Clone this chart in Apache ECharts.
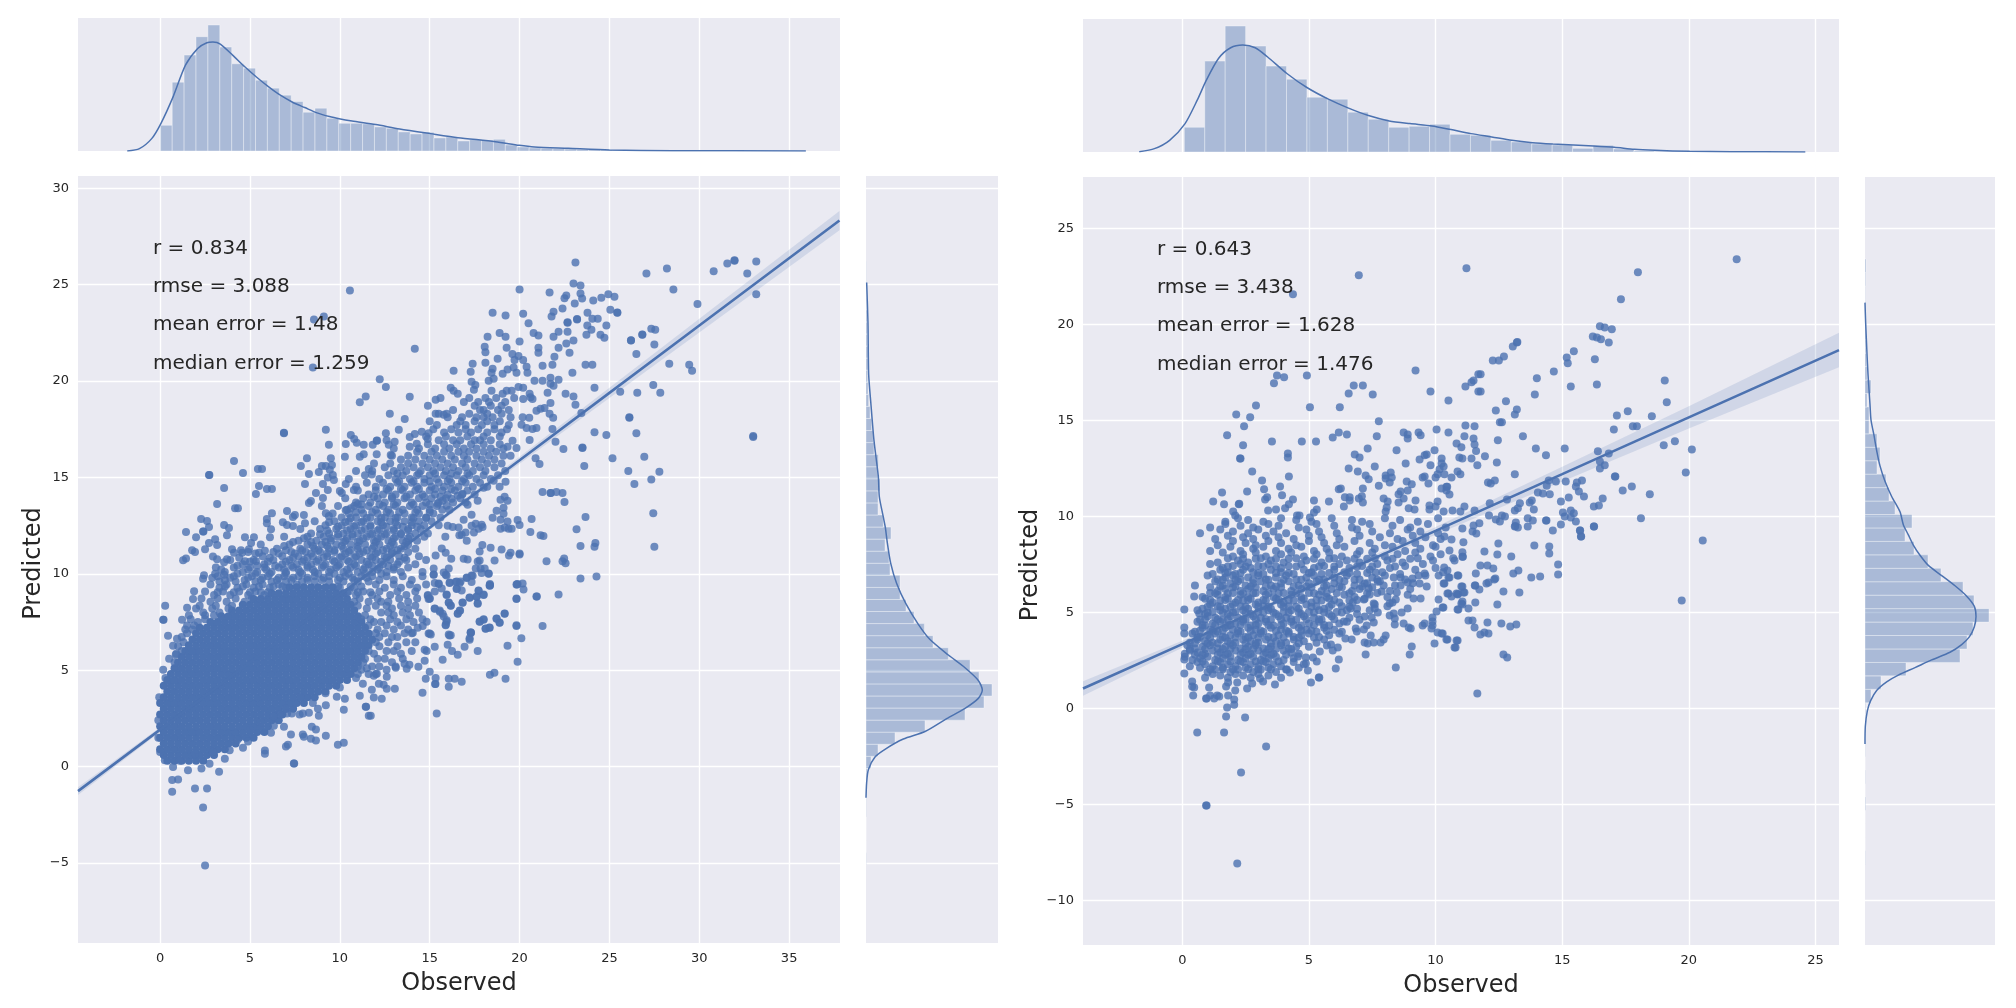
<!DOCTYPE html>
<html><head><meta charset="utf-8">
<style>html,body{margin:0;padding:0;background:#fff}#c{width:2016px;height:1008px}</style>
<script src="https://cdn.jsdelivr.net/npm/echarts@6/dist/echarts.min.js"></script>
</head><body><div id="c"></div>
<script>
// ---------- histogram readings ----------
const leftTopStart=0.01, leftTopWidth=0.662;
const leftTopCounts=[77,206,287,342,377,311,261,248,212,188,167,148,116,128,98,83,83,81,72,68,57,51,56,39,42,30,34,32,35,18,12,9,8,7,6,5,4,3,2,2,1,1,1,1,1,1,1,1,1,1];
const leftTopKdeX=[-1.83,-1.15,-0.47,0.04,0.72,1.41,2.09,2.6,2.94,3.35,4.03,4.71,5.39,6.04,6.69,7.37,8.05,8.73,9.42,10.03,10.68,12,13.33,15.04,16.57,18.65,19.98,20.83,22.7,25,28.5,35.93];
const leftTopKdeY=[0,7,37,82,162,257,307,324,326,320,287,252,220,192,167,146,130,114,103,96,90,79,66,52,40,28,17,12,8,3,1,0];
const leftSideStart=-5.1, leftSideWidth=0.626;
const leftSideCounts=[1,0,0,0,1,1,2,3,15,36,87,177,297,354,378,339,312,247,201,175,144,120,102,102,72,69,57,75,52,36,36,42,36,37,24,22,17,12,8,6,5,6,6,5,5,4,2,1,1,1];
const leftSideKdeY=[25.11,22.99,20.35,18.76,16.91,15.05,14,12.94,12.41,11.61,10.56,9.5,8.44,7.38,6.59,5.79,5.13,4.47,3.97,3.54,3.02,2.49,1.82,1.43,0.9,0.5,-0.16,-0.82,-1.62];
const leftSideKdeX=[2,6,8,15,24,37,40,52,58,64,74,92,120,157,192,247,297,337,349,337,297,242,177,112,57,27,7,2,0];
const rightTopStart=0.08, rightTopWidth=0.807;
const rightTopCounts=[74,272,377,317,257,218,164,158,119,98,74,77,83,53,50,35,30,24,21,11,20,9,3,2,2,1,1];
const rightTopKdeX=[-1.7,-1.1,-0.5,0.11,0.59,0.95,1.43,1.91,2.39,2.88,3.36,4.13,4.92,5.77,6.54,7.35,8.17,8.99,9.86,10.61,11.4,12.22,13.01,13.83,14.63,15.45,16.24,17.06,17.85,18.67,20.04,21.66,24.6];
const rightTopKdeY=[1,10,35,85,155,215,280,312,320,312,285,235,193,158,132,109,93,85,78,67,55,45,35,28,24,21,18,14,8,5,2,1,0];
const rightSideStart=-8.1, rightSideWidth=0.7;
const rightSideCounts=[1,0,0,0,2,0,1,0,1,0,1,2,18,48,123,285,306,324,372,327,294,228,189,147,120,141,90,72,63,36,45,36,12,12,6,18,6,5,3,3,2,1,1,2,3];
const rightSideKdeY=[-1.85,-0.92,-0.12,0.41,0.94,1.39,1.74,2.13,2.53,2.93,3.33,3.73,4.26,4.79,5.32,5.85,6.39,6.92,7.45,7.98,8.51,9.04,9.57,10.24,11.04,11.83,12.63,13.43,14.22,15.02,15.82,16.61,17.41,18.47,20.07,21.13];
const rightSideKdeX=[0,1,7,17,35,65,100,150,200,255,290,313,328,333,328,305,270,230,190,165,145,130,115,105,80,60,45,35,27,18,15,12,9,6,2,0];
// ---------- regression ----------
const leftFitX=[-4.57,0,5,10,15,20,25,30,37.8];
const leftFitY=[-1.27,1.92,5.41,8.91,12.4,15.89,19.39,22.88,28.33];
const leftFitCi=[0.2,0.12,0.08,0.08,0.12,0.18,0.27,0.36,0.5];
const rightFitX=[-3.92,0,5,10,15,20,25.93];
const rightFitY=[1.04,3.35,6.3,9.25,12.2,15.16,18.66];
const rightFitCi=[0.38,0.18,0.12,0.2,0.38,0.58,0.9];
// ---------- scatter: rows are [predicted, observed, observed, ...] ----------
const leftCoreRows=[
[.3,.4,.8,1.2,1.6,2,2.4],
[.6,.2,.6,1,1.4,1.8,2.2,2.6,3],
[.9,0,.4,.8,1.2,1.6,2,2.4,2.8,3.2,3.6],
[1.2,.2,.6,1,1.4,1.8,2.2,2.6,3,3.4,3.8,4.2],
[1.5,0,.4,.8,1.2,1.6,2,2.4,2.8,3.2,3.6,4,4.4,4.8,5.2],
[1.8,.2,.6,1,1.4,1.8,2.2,2.6,3,3.4,3.8,4.2,4.6,5,5.4,5.8],
[2.1,0,.4,.8,1.2,1.6,2,2.4,2.8,3.2,3.6,4,4.4,4.8,5.2,5.6,6],
[2.4,.2,.6,1,1.4,1.8,2.2,2.6,3,3.4,3.8,4.2,4.6,5,5.4,5.8,6.2,6.6],
[2.7,0,.4,.8,1.2,1.6,2,2.4,2.8,3.2,3.6,4,4.4,4.8,5.2,5.6,6,6.4,6.8],
[3,.2,.6,1,1.4,1.8,2.2,2.6,3,3.4,3.8,4.2,4.6,5,5.4,5.8,6.2,6.6,7,7.4],
[3.3,0,.4,.8,1.2,1.6,2,2.4,2.8,3.2,3.6,4,4.4,4.8,5.2,5.6,6,6.4,6.8,7.2,7.6,8],
[3.6,.2,.6,1,1.4,1.8,2.2,2.6,3,3.4,3.8,4.2,4.6,5,5.4,5.8,6.2,6.6,7,7.4,7.8,8.2,8.6],
[3.9,.4,.8,1.2,1.6,2,2.4,2.8,3.2,3.6,4,4.4,4.8,5.2,5.6,6,6.4,6.8,7.2,7.6,8,8.4,8.8,9.2],
[4.2,.2,.6,1,1.4,1.8,2.2,2.6,3,3.4,3.8,4.2,4.6,5,5.4,5.8,6.2,6.6,7,7.4,7.8,8.2,8.6,9,9.4,9.8],
[4.5,.4,.8,1.2,1.6,2,2.4,2.8,3.2,3.6,4,4.4,4.8,5.2,5.6,6,6.4,6.8,7.2,7.6,8,8.4,8.8,9.2,9.6,10,10.4],
[4.8,.6,1,1.4,1.8,2.2,2.6,3,3.4,3.8,4.2,4.6,5,5.4,5.8,6.2,6.6,7,7.4,7.8,8.2,8.6,9,9.4,9.8,10.2,10.6],
[5.1,.8,1.2,1.6,2,2.4,2.8,3.2,3.6,4,4.4,4.8,5.2,5.6,6,6.4,6.8,7.2,7.6,8,8.4,8.8,9.2,9.6,10,10.4,10.8],
[5.4,1,1.4,1.8,2.2,2.6,3,3.4,3.8,4.2,4.6,5,5.4,5.8,6.2,6.6,7,7.4,7.8,8.2,8.6,9,9.4,9.8,10.2,10.6,11],
[5.7,1.2,1.6,2,2.4,2.8,3.2,3.6,4,4.4,4.8,5.2,5.6,6,6.4,6.8,7.2,7.6,8,8.4,8.8,9.2,9.6,10,10.4,10.8,11.2],
[6,1.4,1.8,2.2,2.6,3,3.4,3.8,4.2,4.6,5,5.4,5.8,6.2,6.6,7,7.4,7.8,8.2,8.6,9,9.4,9.8,10.2,10.6,11,11.4],
[6.3,1.6,2,2.4,2.8,3.2,3.6,4,4.4,4.8,5.2,5.6,6,6.4,6.8,7.2,7.6,8,8.4,8.8,9.2,9.6,10,10.4,10.8,11.2,11.6],
[6.6,1.8,2.2,2.6,3,3.4,3.8,4.2,4.6,5,5.4,5.8,6.2,6.6,7,7.4,7.8,8.2,8.6,9,9.4,9.8,10.2,10.6,11,11.4,11.8],
[6.9,2,2.4,2.8,3.2,3.6,4,4.4,4.8,5.2,5.6,6,6.4,6.8,7.2,7.6,8,8.4,8.8,9.2,9.6,10,10.4,10.8,11.2,11.6],
[7.2,2.2,2.6,3,3.4,3.8,4.2,4.6,5,5.4,5.8,6.2,6.6,7,7.4,7.8,8.2,8.6,9,9.4,9.8,10.2,10.6,11,11.4],
[7.5,2.8,3.2,3.6,4,4.4,4.8,5.2,5.6,6,6.4,6.8,7.2,7.6,8,8.4,8.8,9.2,9.6,10,10.4,10.8,11.2],
[7.8,3.4,3.8,4.2,4.6,5,5.4,5.8,6.2,6.6,7,7.4,7.8,8.2,8.6,9,9.4,9.8,10.2,10.6,11],
[8.1,4,4.4,4.8,5.2,5.6,6,6.4,6.8,7.2,7.6,8,8.4,8.8,9.2,9.6,10,10.4,10.8],
[8.4,4.6,5,5.4,5.8,6.2,6.6,7,7.4,7.8,8.2,8.6,9,9.4,9.8,10.2,10.6],
[8.7,5.2,5.6,6,6.4,6.8,7.2,7.6,8,8.4,8.8,9.2,9.6,10,10.4],
[9,6.2,6.6,7,7.4,7.8,8.2,8.6,9,9.4,9.8,10.2],
[9.3,7.2,7.6,8,8.4,8.8,9.2,9.6]
];
const leftFillRows=[
[9.05,3.2,4.1,5,5.6,6,10.4,11,11.7],[9.35,3.6,4.6,5.5,6.3,6.8,9.9,10.6,11.2],
[9.6,3.3,4.2,5.3,6.2,7,7.9,8.6,9.4,10.2,11,11.6],[9.8,2.9,3.9,4.9,5.7,6.6,7.4,8.2,9.1,10,10.7,11.5],
[10,4.3,5.3,6.1,7,7.9,8.8,9.7,10.5,11.4,12.3],[10.22,3.4,4.9,5.9,6.9,7.7,8.5,9.5,10.4,11.3,12.1,13],
[10.42,4.3,5.4,6.4,7.3,8.2,9.1,9.9,10.9,11.8,12.7],[10.63,5,6,7,7.9,8.7,9.7,10.5,11.5,12.3,13.3],
[10.84,4.4,6.1,7.4,8.2,9.1,10,10.8,11.8,12.6,13.6],[11.05,5.3,6.6,7.5,8.4,9.3,10.3,11.1,12,12.9],
[11.22,7,7.9,8.8,9.7,10.6,11.5,12.4,13.2],[11.45,6.9,8.5,9.3,10.1,11,11.9,12.8,13.6],
[11.65,7.4,8.4,9.2,10.2,11,12,12.9,13.7],[11.85,8,9.5,10.4,11.3,12.1,13,13.8],
[12.05,8.9,9.9,10.7,11.7,12.5,13.4],[12.25,9.3,10.4,11.2,12.1,13,13.8],
[12.45,9.9,10.8,11.7,12.6,13.5,14.3],[12.68,9.4,10.3,11.2,12.3,13.1,14],
[12.9,10.6,11.5,12.3,13.1,14.1,14.8],[13.2,10.9,11.8,12.6,13.3,14.2,15],
[13.6,11.2,12.2,13,14.1,15],[14,11.9,12.9,13.7,14.7,15.6],
[14.4,12.6,13.4,14.4,15.3,16.2],[14.8,13.3,14.1,15,16,16.8],[15.2,13.2,14.4,15.3,16.2,17.1]
];
const leftMidRows=[
[19.12,15.6,17.2,18.1,18.7,19.7],[18.92,16.9,17.7,18.3,19.2],
[18.72,14.9,17.5,18.4,19],[18.5,16.3,17.8,18,18.8,19.4],
[18.3,15.5,17.2,18.2,19],[18.13,16,16.8,17.6,18,18.5,19.5],
[17.92,15,16.7,17.5,18.2,18.9],[17.72,15.4,16.5,17,17.9,18.6,19.4],
[17.5,15.2,16.2,17,17.7,18.6,19.3],[17.33,15.8,16.6,17.3,18.2,19],
[17.12,14.8,15.9,17.1,18,18.9],[16.93,12.6,15.5,16.3,16.7,17.5,17.8,18.4],
[16.72,14.9,15.8,16.5,17.3,18,18.9],[16.5,13,14.4,15.3,16.1,16.9,17.6,18.4,19.1],
[16.33,14.3,15.1,15.8,16.6,17.2,18,18.7],[16.13,12.9,13.8,14.7,15.4,16.2,16.9,17.6,18.3,19.1,19.5],
[15.93,13.4,14.2,15,15.7,16.4,17.1,17.9,18.6],[15.72,11.9,12.8,13.8,14.6,15.3,16,16.8,17.5,18.2,19],
[15.53,12.5,13.4,14.1,14.9,15.6,16.3,17,17.8,18.6],[15.33,10.9,11.8,13,13.7,14.5,15.2,15.9,16.6,17.4,18.1,19.2],
[15.12,11.4,12.7,13.5,14.3,15,15.8,16.5,17.2,18,18.8],[14.92,10.5,12.2,13.1,13.9,14.7,15.4,16.1,16.9,17.6,18.4],
[14.73,11.5,12.4,13.2,14,14.7,15.5,16.2,17,17.8],[14.52,10.9,12,12.8,13.6,14.3,15.1,15.8,16.6,17.4,18.2],
[14.33,11,12,12.7,13.5,14.2,15,15.7,16.4,17.1],[14.12,11.6,12.4,13.1,13.9,14.6,15.3,16,16.8,17.5],
[13.92,10.3,11.3,12.1,12.9,13.6,14.4,15.1,15.9,16.7],[13.7,10.9,11.7,12.5,13.2,14,14.8,15.5,16.3,17],
[13.52,9.9,10.8,11.6,12.4,13.1,13.9,14.6,15.4],[13.33,10.4,11.2,12,12.7,13.5,14.3,15,15.7,16.1],
[13.13,9.6,10.5,11.3,12.1,12.8,13.6,14.4,15.2],[12.92,10.1,10.9,11.7,12.5,13.2,14,14.8,15.6],
[12.73,8.6,9.7,10.5,11.3,12.1,12.8,13.6,14.4,15.1],[12.52,9.2,10.1,10.9,11.7,12.4,13.2,14,14.7,15.5],
[12.33,7.8,8.9,9.8,10.6,11.4,12.2,13,13.8,14.5],[12.1,8.4,9.4,10.2,11,11.8,12.6,13.4,14.2,14.9],
[11.92,6.9,8.2,9.1,9.9,10.7,11.5,12.3,13.1,13.9,14.7],[11.72,7.7,8.7,9.5,10.3,11.1,11.9,12.7,13.5,14.3],
[11.52,5.6,7.2,8.2,9,9.8,10.6,11.4,12.2,13,13.8],[11.3,6.5,7.8,8.6,9.4,10.2,11,11.8,12.6,13.4,14.2],
[11.13,4.9,6.3,7.3,8.1,8.9,9.7,10.5,11.3,12.1,12.9,13.8],[10.92,5.7,6.8,7.7,8.5,9.3,10.1,10.9,11.7,12.5,13.3,14.4],
[10.72,3.9,5.2,6.3,7.2,8,8.8,9.6,10.4,11.2,12,12.8,13.7,14.8],[10.5,4.6,5.8,6.8,7.6,8.4,9.2,10,10.8,11.6,12.4,13.2,14.2],
[10.33,3.1,4.1,5,5.8,6.6,7.4,8.2,9,9.8,10.6,11.4,12.2,13,13.8],[10.1,3.6,4.6,5.4,6.2,7,7.8,8.6,9.4,10.2,11,11.8,12.6,13.4,14.6],
[9.88,3.2,4.1,5.1,6,6.9,7.7,8.6,9.4,10.3,11.2,11.8,12.6,13.5,14.6],[9.68,3.6,4.7,5.6,6.5,7.3,8.2,9,9.9,10.8,12.2,13,14],
[9.45,2.8,3.7,4.8,5.7,6.6,7.6,12,13,13.9,14.8],[9.28,3.3,4.3,5.2,6.1,7,10,10.8,12.5,13.4,14.3],
[9.08,2.5,3.5,4.4,5.3,10.5,11.3,12.2,13.2,14.2],[8.9,3,3.9,4.9,5.8,10.9,11.8,12.8,13.7,14.9],
[8.72,2.3,3.2,4.2,5.1,11.1,12.1,13.3,14.3,15],[8.55,2.8,3.7,4.7,10.8,11.6,12.3,12.7,13.8],
[8.35,2.2,3.1,4,11,12,12.6,13.4,14.2],[8.2,2,2.9,3.8,11.5,12.9,13.8],
[8,2.4,3.3,12.3,12.7,13.5,14.4],[7.85,1.6,2.5,3,11.4,13,13.9],
[7.65,1.7,2.5,11.2,11.7,12.8,13.7,14.6],[7.5,2.1,11.9,12.3,13.2,14.1],
[7.32,1.5,1.9,11.6,12.6,13.4],[7.12,1.4,1.8,12.1,13,13.8],
[6.92,1.5,12,12.5,13.6,14],[6.72,1.2,12.2,12.9,13.2],
[6.45,1.3,12,12.7,13.7,14.2],[6.25,1,12.2,13.2],
[6,1.2,11.6,12.6,13,14],[5.85,.9,11.9,13.4],
[5.6,11.4,12.1,12.5,13.5],[5.42,.8,11.3,12.9],
[5.2,11,11.8,12.2,13.1],[5.02,11.2,12.6],[4.8,11,11.6,12]
];
const leftPairs=[23.11,26.15,27.06,25.58,28.2,25.84,30.8,25.7,31.56,26.1,31.96,26.24,31.96,26.27,33.17,26.2,32.67,25.58,28.56,24.75,29.9,24,33.17,24.5,33,17.1,33,17.15,
23,25.06,23.39,24.96,20,24.75,21.67,24.6,23.39,24.54,22.6,24.44,22.5,24.3,23.07,24.02,23.48,24.28,24.1,24.18,24.55,24.33,24.94,24.5,25.28,24.38,22.39,23.76,21.89,23.6,21.78,23.35,20.2,23.5,18.5,23.55,19.22,23.4,25.05,23.7,25.44,23.55,25.44,23.56,23.78,23.55,20.5,23,22.67,23.03,22.67,23.05,23.2,23.2,23.2,23.22,24.05,23.24,24.35,23.24,24.83,22.88,23.77,22.88,24,22.67,22.67,22.56,22.17,22.56,20.78,22.5,21.05,22.36,21.89,22.3,18.89,22.5,19.22,22.3,18.22,22.3,23.72,22.4,24.5,22.4,24.72,22.25,20,22.05,23,22.1,22.6,21.95,22.17,21.73,21.05,21.73,21.05,21.47,22.78,21.47,19.28,21.73,18.06,21.78,18.1,21.5,19.6,21.4,19.94,21.3,21.94,21.26,20.2,21.1,19.72,21.1,18.78,21.16,18.1,20.95,17.39,20.9,21.83,20.85,21.28,20.8,20.39,20.75,19.67,20.7,16.33,20.54,17.28,20.48,18.5,20.64,18.44,20.43,19.33,20.6,20.44,20.43,19.83,20.43,19.06,20.38,22.94,20.43,23.67,20.85,24.05,20.85,26.5,21.4,26.2,22.1,26.2,22.12,26.83,22.4,26.83,22.42,27.33,22.72,27.55,22.67,27.5,21.9,28.33,20.9,29.44,20.85,29.6,20.54,27.44,19.8,27.83,19.4,26.55,19.4,25.6,19.45,24.17,19.65,22.56,19.34,23,19.2,23.11,18.77,23.44,18.35,26.11,18.1,26.11,18.12,26.5,17.3,24.83,17.2,24.17,17.35,23.5,16.53,23.5,16.55,25.17,16,26.94,16.07,23.6,15.6,26.05,15.34,27.78,15.3,27.33,14.9,26.39,14.66,27.44,13.15,27.5,11.4,23.67,12.95,23.17,12.32,23.39,11.44,24.22,11.6,24.17,11.4,21.5,10.66,22.39,10.66,22.56,10.55,22.48,10.8,21.28,14.25,21.72,14.2,21.74,14.2,22.05,14.25,22.39,14.2,22.5,13.73,20.67,12.84,20.6,12.17,21.17,12,21.33,11.96,20,11,19.89,12.8,20,12.53,
22,16.85,22.44,16.48,20.89,16,21.11,15.7,21.83,17.52,20.56,16.95,20.94,17.57,20.72,17.52,20.39,17.57,20.11,17.73,19.83,16.53,19.61,16.9,19.33,16.59,21.87,18.1,21.67,18.3,20.54,18.1,20.17,18.13,20.94,18.46,21.17,18.56,21.39,18.6,21.72,18.87,20.61,19.16,20.72,19.07,20.2,19.07,20.56,19.34,21.56,19.4,21.72,19.86,21.89,19.76,22.17,20.07,21.28,20.02,20.83,20.02,20.2,19.65,19.94,19.7,21.72,20.17,19.56,19.5,19.28,19.5,19.06,19.34,18.44,19.5,18.28,20.02,18.56,20.12,17.33,19.96,17.54,19.8,17.46,19.55,16.17,19.65,16.33,19.5,16.56,19.34,15.33,19.03,13.89,19.19,14.17,21.68,
10.56,24.7,8.56,23.2,9.11,23.35,8.5,20.7,6.89,17.3,6.89,17.32,9.22,17.47,12.22,20.1,12.56,19.7,11.11,18.9,11.44,19.2,12.78,18.3,13.61,18.04,15.33,18.3,15.78,18.25,15.94,18.3,12.56,17.3,13.28,17.47,10.61,17.2,10.8,17,10.94,16.8,10.33,16.74,11.33,16.7,11.83,16.7,12.05,16.9,12.07,16.92,13.05,16.85,12.72,16.7,13.89,17.1,14.17,17.26,13.89,16.6,14.28,16.75,14.56,17.37,14.94,17.3,14.89,17,8.17,16,9.39,16.7,9.5,16,10.28,16.07,11.11,16.07,11.33,16.2,12.05,16.2,12.83,16.17,4.11,15.86,2.72,15.13,2.74,15.13,4.61,15.23,5.44,15.44,5.67,15.44,7.83,15.6,8.28,15.18,8.83,15.28,9,15.6,9.22,15.6,9.56,15.65,9.44,15.4,11.61,15.44,11.78,15.15,9.33,15,9.61,15.13,9.67,14.87,3.56,14.45,5.5,14.56,5.94,14.4,6.22,14.4,5.33,14.14,8.06,14.66,9.06,14.66,9.33,14.35,10.33,14.66,10.78,14.35,10,14.3,10.11,14.2,8.67,14.2,9.06,13.93,3.17,13.62,8.28,13.67,8.39,13.78,9,13.52,4.17,13.41,4.33,13.41,6.22,13.15,7.06,13.26,8,13.05,9.22,13.15,9.39,13,10.33,13.3,10.61,13.41,11,13.62,7.5,13.05,7.39,12.95,2.28,12.84,2.61,12.74,5.94,12.84,5.94,12.63,6.83,12.68,7.06,12.53,7.39,12.48,8.06,12.63,1.44,12.17,2.39,12.2,2.41,12.2,2.72,12.43,3.56,12.53,3.83,12.38,3.72,12,2,11.9,3.06,11.8,4.72,11.9,5.22,11.9,6.17,12.32,6.11,11.9,2.72,11.6,3.17,11.5,2.5,11.28,1.78,11.23,1.94,11.13,1.28,10.7,1.44,10.8,2.94,10.9,3.17,10.76,3.56,10.6,3.72,10.76,4,11.28,4.11,11.1,4.56,11.1,4.5,11.23,4.94,11.28,5.06,11.6,4.72,10.66,5.5,11.1,5.33,10.66,5.83,11.2,
15.39,2.75,14.6,3.83,15.3,4.28,15.32,4.28,14.78,4.56,16.06,4.15,16.06,4.56,16.39,4.56,16.78,4.4,18.35,4.77,18.6,4.87,19.22,4.56,15.33,4.6,15,4.92,14.37,5.18,13.87,5.28,13.72,5.08,13.6,5.34,14.72,5.49,15.72,5.54,16.56,5.8,16.24,6,16,6.32,16.94,6.22,17.67,6,15.28,6.22,14.83,6,14.72,6.06,17.22,6.58,17.28,6.94,17.3,6.94,19.33,6.27,19.83,7.3,19.89,5.44,14.94,6.9,15.06,6.86,16.1,6.8,17.78,7.51,18,7.62,18.11,7.15,18.33,7.2,18.72,7.67,18.89,7.46,19.17,7.93,16.56,7.93,16.69,8.08,15.94,7.51,15.89,7.36,14.83,7.51,14.61,7.3,14.33,7.2,14.06,6.94,15.72,7.93,15.56,8.03,15.28,8.19,16.83,8.5,17.67,8.45,16.17,8.34,16.06,8.5,17.22,8.76,17.61,8.8,18,8.9,17.72,9.12,18.35,9.38,18.35,9.48,19.83,8.7,19.83,9.45,19.85,9.45,17.06,9.79,17.33,9.58,17.39,9.9,16.67,9.53,16.44,9.58,16.5,9.22,16.11,9.53,15.94,8.9,15.5,9.48,15.28,9.53,14.94,8.7,14.89,8.86,17.89,10.05,18.28,10,15.22,9.95,15.89,9.95,
2.5,-5.13,2.39,-2.12,1.94,-1.14,2.61,-1.14,.67,-1.3,7.44,.16,7.46,.16,9.89,1.14,10.22,1.24,9.22,1.6,8.39,1.45,8.67,1.35,8,1.55,7.94,1.66,7,1.04,7.11,1.14,7.28,1.66,6.89,2.07,8.44,2.07,8.67,1.92,5.83,.83,5.83,.67,4.61,.98,3.28,-.26,6.17,1.76,4.89,1.3,10.22,2.95,11.44,3.1,11.46,3.1,11.61,2.64,11.72,2.64,9.83,3.62,10.28,3.52,11.11,3.68,11.89,3.58,12.33,3.52,11.78,3.99,12.61,4.04,13.06,4.04,12.44,4.25,12.17,4.3,12.61,4.66,13.11,5.13,11.89,4.71,12.06,4.82,11.28,4.3,8.83,2.64,9.22,3.18,8.78,3,8.28,2.8,7.94,2.75,7.76,2.7,7.33,2.75,7.06,2.75,6.67,2.7,6.33,2.12,.67,-.7,1,-.67,1.55,-.19,2.3,-.1,2.75,.15,3.6,.41,3.87,.85,2.94,.76,1.93,.67,1.09,.3,.72,-.02,0,.76,.26,.33,.28,8.34,.17,7.62,.19,7.62,.44,6.79,.17,5.03,.94,6.63,.72,6.27,.87,5.8,1.22,7.62,1.5,8.24,1.89,9.1,1.83,8.7,2.44,9.93,2.39,9.74,3.06,10,3.56,9.95,.5,5.6,.3,4.6,-.05,3.6,-.1,2.4,-.1,1.5,7.8,3.6,8.5,3.3,9.2,3.8,10,4.1,10.9,4.6,11.5,5.1,4.3,1.4,5,1.9,5.6,2.3,6.3,2.6,7,3,
20.1,6.66,21.28,7.3,19.83,7.33,19.17,7.95,18.89,7.48,18.72,7.69,18.33,7.22,18.11,7.17,18,7.64,17.78,7.53,17.28,6.97,17.22,6.66,16.17,6.81,16.06,6.86,15,6.9,16.67,8.1,16.56,7.95,15.94,7.59,15.89,7.33,15.78,7.79,15.56,8.1,15.28,8.2,16.17,8.36,16.06,8.52,16.83,8.52,17.67,8.47,17.22,8.78,17.61,8.83,18,8.93,17.72,9.14,18.33,9.4,18.35,9.42,19.83,8.72,19.89,9.48,20.22,9.19,20.17,9.5,20.94,8.83,20.96,8.83,22.17,8.93,23.39,9.76,24.28,9.86,17.06,9.81,17.33,9.91,16.78,9.14,16.5,9.24,16.5,9.6,16.72,9.6,16.11,9.55,15.94,8.93,15.67,9.24,15.5,9.5,15.28,9.09,15,8.72,
17.83,10.28,18.28,10.02,18.06,10.28,17.67,10.64,17.78,10.69,17.56,10.28,17.11,10.74,16.89,10.79,16.2,10.79,16.06,10.28,15.94,9.91,15.78,10.07,18.61,10.69,19.41,10.95,19.5,11.1,20,11.05,19,11.26,18.39,11.36,17.93,11.5,17.78,11.16,17.06,11.72,16.65,12,16.78,12.03,17,12.14,15.87,11.93,15.67,11.31,15.33,10.95,15.89,11.1,15.22,10.28,15.22,9.97,17.46,12.14,17.56,12.6,17.89,12.55,17.94,12.43,17.72,12.34,17.33,12.5,16.89,12.81,17.33,13.07,16,12.5,16.28,12.43,16.61,12.4,18.5,12.91,18.72,13.28,19.11,13.43,19.11,13.12,19.33,13.79,18.94,13.84,19.17,14,17.67,13.79,17.11,13.59,15.94,13.53,15.44,13.64,15.72,13.79,16.22,13.9,16.56,14.05,16.83,14.16,18,14.47,18.89,14.52,19.22,14.78,18.56,14.83,18.94,12.81,19.33,12.71,19.39,12.34,18.94,12.34,19.56,12.34,19.17,12.4];
const rightRows=[
[1.6,.9,1.8,2.7,3.9],[1.8,1.2,2.1,3],[1.72,1.5,2.4,3.4],
[2.12,.7,1.6,2.5,3.4,4.6],[1.9,1,1.9,2.8,3.7],[2.03,1.3,2.2,3.1,4.1],
[2.2,.3,1.2,2.1,3,3.9],[2.42,.6,1.5,2.4,3.3,4.4],[2.3,.9,1.8,2.7,3.6,4.8],
[2.7,.1,1,1.9,2.8,3.7],[2.52,.4,1.3,2.2,3.1,4],[2.62,.7,1.6,2.5,3.4,4.4],
[2.85,.1,.9,1.8,2.7,3.6,4.6],[3.02,.3,1.2,2.1,3,4],[2.92,.6,1.5,2.4,3.3,4.3],
[3.3,.2,1.1,2,2.9,3.9],[3.12,.5,1.4,2.3,3.2,4.2],[3.22,.8,1.7,2.6,3.5,4.5,5],
[3.42,.3,1.2,2.1,3,4.1,5.3],[3.6,.6,1.5,2.4,3.3,4.4,5.6],[3.5,.9,1.8,2.7,3.7,4.8],
[3.9,.4,1.3,2.2,3.1,4.2,5,6.2],[3.72,.7,1.6,2.5,3.4,4.4,5.4],[3.82,1,1.9,2.8,3.8,4.7,5.8],
[4,.5,1.4,2.3,3.2,4.2,5.3,6.3],[4.2,.8,1.7,2.6,3.5,4.6,5.6],[4.1,1.1,2,2.9,3.9,4.9,6],
[4.52,.6,1.5,2.4,3.3,4.3,5.4,6.5],[4.32,.9,1.8,2.7,3.6,4.7,5.8],[4.42,1.2,2.1,3,4,5,6.2],
[4.62,.7,1.6,2.5,3.5,4.5,5.5,7],[4.8,1,1.9,2.8,3.8,4.8,5.9],[4.72,1.3,2.2,3.1,4.1,5.2,6.6],
[5.12,.6,1.5,2.4,3.4,4.3,5.4,6.5,7.4],[4.92,.9,1.8,2.7,3.7,4.7,5.8,6.9],[5.02,1.2,2.1,3,4,5,6.1],
[5.2,.8,1.7,2.6,3.5,4.6,5.6,6.9],[5.42,1.1,2,2.9,3.9,4.9,5.9,7.6],[5.32,1.4,2.3,3.2,4.2,5.3,6.3,8.1],
[5.72,.9,1.8,2.7,3.7,4.8,5.8,7.2],[5.52,1.2,2.1,3,4,5.1,6.2,8.3],[5.62,1.5,2.4,3.3,4.4,5.5,6.6],
[5.8,.8,1.7,2.6,3.6,4.7,5.7,6.8,8.1],[6.02,1.1,2,2.9,4,5,6.1,7.7],[5.92,1.4,2.3,3.3,4.3,5.4,6.4,8.9],
[6.32,1.1,2,2.9,3.9,5.1,6.3,7.5],[6.12,1.4,2.3,3.2,4.3,5.5,6.7,8.2],[6.22,1.7,2.6,3.6,4.7,5.9,7,9],
[6.4,.5,1.6,2.5,3.5,4.6,5.7,6.8,8.4],[6.62,1.3,2.2,3.1,4.2,5.3,6.4,7.8],[6.52,1.9,2.8,3.9,5,6,7.3,9.1],
[6.92,1,2,3,4.1,5.2,6.5,8,9.6],[6.72,1.4,2.3,3.3,4.5,5.6,7,8.8],[6.82,1.7,2.6,3.7,4.9,6,7.5],
[7,1.2,2.1,3.2,4.4,5.5,6.9,8.6],[7.22,1.5,2.4,3.5,4.8,6,7.4,9.2],[7.1,1.8,2.8,3.9,5.1,6.4,7.9,10.3],
[7.52,1.1,2.3,3.4,4.7,6.2,7.7,9.5],[7.32,1.6,2.7,3.9,5.2,6.6,8.2,10],[7.42,2,3,4.2,5.6,7.1,8.8],
[7.6,1.4,2.6,4,5.5,7,8.7],[7.82,1.8,3.1,4.5,6,7.6,9.3,10.7],[7.7,2.2,3.5,4.9,6.5,8.1,9.9],
[8.12,1.6,2.9,4.3,5.8,7.5,9.2],[7.92,2,3.3,4.8,6.3,8,9.8],[8.03,2.4,3.9,5.3,6.9,8.5,10.2],
[8.2,1.1,2.3,3.7,5.2,7,8.8],[8.42,1.9,3.2,4.7,6.4,8.3,10],[8.32,2.8,4.2,5.7,7.6,9.4],
[8.5,1.4,2.9,4.5,6.1,8,9.9],[8.72,2,3.4,5,6.8,8.7],[8.62,2.5,3.9,5.6,7.4,9.2],
[8.82,1.3,2.8,4.4,6.2,8.5,10.2],[9,1.8,3.3,5,7,9.1],[8.92,2.4,3.8,5.5,7.8,9.6],
[9.12,.7,2.6,4.1,6.1,8.2,10.1],[9.32,1.5,3,4.9,6.9,8.9],[9.22,2,3.6,5.4,7.5,9.4],
[9.42,1.1,2.8,4.6,6.7,9,10.4],[9.6,1.7,3.4,5.3,7.4,9.7],[9.52,2.3,3.8,6,8.3],
[9.72,1.7,3.2,5.1,7.1,9.3],[9.9,2.2,3.9,5.9,8,10.1],[9.82,2.6,4.5,6.7,8.6]
];
const rightFillRows=[
[2.05,1.1,1.6,2,2.6,3,3.5],[2.45,.8,1.4,1.9,2.3,2.9,3.2,3.8],
[2.8,.5,.8,1.4,1.7,2.3,2.6,3.2,3.5,4.1],[3.1,.3,.9,1.6,1.9,2.5,2.8,3.4,3.7,4.3],
[3.4,.5,1,1.4,1.9,2.5,2.9,3.5,3.9,4.6],[3.7,.6,1.1,1.7,2.1,2.6,3,3.6,4,4.6,5.2],
[4.05,.7,1.2,1.6,2.2,2.7,3.1,3.7,4.1,4.7,5.1,5.7],[4.35,.8,1.3,1.9,2.3,2.9,3.4,3.9,4.4,5.2,5.6],
[4.65,.9,1.4,1.8,2.4,2.9,3.3,3.9,4.3,4.9,5.4,6],[5,1,1.6,2,2.5,3.2,3.6,4.2,4.6,5.2,5.6,6.3],
[5.3,1,1.5,1.9,2.5,3,3.4,4,4.5,5.1,5.8,6.6],[5.65,1.1,1.7,2.2,2.6,3.2,3.8,4.2,4.7,5.3,6,6.9],
[6,1.3,1.8,2.4,2.8,3.4,3.8,4.5,5.2,5.7,6.6,7.3],[6.35,1.5,2.1,2.7,3.3,3.7,4.4,4.9,5.6,6.2,7.1],
[6.7,1.6,2.1,2.8,3.4,4,4.7,5.4,6.2,6.8,7.7],[7.05,1.7,2.3,3,3.7,4.2,5,5.8,6.6,7.3],
[7.4,1.8,2.5,3.2,3.7,4.5,5.4,6,6.9,7.5,8.4],[7.8,2.4,2.9,3.7,4.2,5.2,5.8,6.8,7.3,8.3,9]
];
const rightPairs=[11.22,22.92,6.97,22.55,4.37,21.56,9.21,17.6,3.74,17.34,4.02,17.24,3.62,16.93,4.92,17.34,6.77,16.82,7.13,16.82,6.57,16.4,7.52,16.35,9.8,16.5,10.51,16.04,11.18,16.77,11.42,16.98,11.5,17.08,11.69,17.4,11.69,16.5,2.91,15.78,2.13,15.31,2.68,15.16,5.04,15.68,6.22,15.68,7.76,14.95,2.44,14.69,1.77,14.22,3.54,13.9,4.72,13.9,5.28,13.9,5.94,14.11,6.18,14.37,6.5,14.27,7.68,14.17,8.74,14.37,8.9,14.27,8.9,14.06,9.33,14.37,9.41,14.22,10.04,14.53,10.51,14.37,11.18,14.74,11.54,14.69,11.14,14.17,11.5,14.06,10.83,13.8,11.02,13.6,11.54,13.75,11.6,13.4,2.4,13.7,4.17,13.28,4.17,13.07,2.28,13.02,2.3,13.02,6.81,13.23,7,13.07,7.32,13.54,8.46,13.44,9.96,13.44,9.65,13.23,9.57,13.18,9.37,12.97,10.24,13.02,10.94,13.07,11.06,13.02,11.42,13.02,2.76,12.34,4.21,12.08,6.57,12.5,6.93,12.34,7.6,12.6,8.82,12.76,9.8,12.66,10.32,12.6,10.24,12.76,10.16,12.45,11.65,12.66,10.87,12.34,10.98,12.19,7.24,12.13,7.36,11.93,8.03,12.13,8.03,11.98,8.23,12.29,8.27,12.03,8.19,11.77,9.57,12.08,9.49,12.03,10.08,12.19,10,12.03,10.35,12.19,10.63,12.03,
3.15,11.87,3.86,11.56,3.23,11.41,2.56,11.3,1.57,11.25,1.22,10.78,1.65,10.63,2.23,10.63,2.25,10.66,3.35,11,3.27,10.88,3.94,11.1,4.37,10.88,4.21,10.63,4.06,10.42,3.7,10.36,3.39,10.31,2.01,10.26,2.09,10.05,6.18,11.41,6.26,11.46,7.13,11.46,7.76,11.6,8.86,11.82,9.06,11.67,9.72,11.72,10.24,11.46,10.43,11.54,10.46,11.54,10.43,11.35,10.55,11.14,8.9,11.35,8.62,11.3,8.54,11.15,6.42,11,6.61,11,6.61,10.83,7.09,11.05,6.97,10.94,7.13,10.73,7.95,10.94,8.11,10.78,8.54,10.73,8.74,10.94,9.21,10.83,10.08,10.78,9.76,10.57,5.2,10.83,5.79,10.78,6.38,10.52,8.07,10.47,8.03,10.26,8.94,10.42,9.17,10.36,9.76,10.36,10,10.52,10.32,10.26,10.67,10.31,11.14,10.52,10.98,10.26,11.54,10.31,5.2,10.21,5.31,10.36,4.53,10.05,4.63,10.05,5.04,9.95,
21.89,23.39,17.99,22.71,17.32,21.3,16.49,19.9,16.68,19.84,16.96,19.74,16.21,19.37,16.37,19.32,16.53,19.22,16.84,19.06,16.29,18.18,15.46,18.6,15.18,18.28,15.22,17.97,14.67,17.55,14,17.19,13.21,19.06,13.23,19.08,13.05,18.85,12.7,18.33,12.5,18.12,12.26,18.12,13.92,16.35,15.34,16.77,16.37,16.87,19.05,17.08,19.13,15.94,11.78,17.4,11.78,16.5,12.78,15.99,12.38,15.52,13.21,15.57,13.13,15.31,12.54,14.9,12.62,14.9,13.45,14.17,12.46,13.96,13.96,13.54,15.1,13.54,14.36,13.18,11.95,13.13,12.42,12.81,13.13,12.19,16.41,13.39,16.84,13.28,16.49,12.86,16.68,12.66,16.49,12.5,17.04,14.53,17.16,15.26,17.59,15.47,17.79,14.69,17.95,14.69,18.54,15.21,19.01,13.7,19.45,13.91,20.12,13.49,19.88,12.29,18.11,9.9,18.46,11.15,17.75,11.56,17.39,11.35,17.08,12.08,17.1,12.08,16.6,10.94,16.45,10.57,16.25,10.52,15.86,11.04,15.66,11.3,15.78,11.87,15.58,11.77,15.54,11.56,15.14,11.82,15.26,10.98,14.95,10.78,14.75,11.82,14.51,11.15,14.47,11.87,14.39,11.6,14.24,11.2,14.04,11.25,13.8,10.83,13.72,10.73,13.33,10.68,13.25,10.42,13.13,10.31,12.82,10.88,12.14,10.68,12.07,11.77,12.18,11.72,12.34,11.87,13.88,10.36,15.03,10.21,15.34,10.31,15.46,10.16,15.1,10,15.34,9.95,15.54,9.74,14.95,9.58,14.63,9.27,15.7,9.27,15.74,8.96,16.25,9.48,14.36,9.79,14.38,9.79,13.84,9.79,13.64,9.9,13.64,9.48,13.25,9.43,13.13,9.48,13.15,9.5,13.17,9.69,12.74,10,12.62,10.05,12.54,9.74,12.38,9.84,12.11,10.05,
20.55,8.75,19.72,5.63,11.65,.78,12.68,2.81,12.83,2.66,10.79,3.18,10.87,3.54,10.47,3.59,10.28,3.91,11.77,3.85,11.93,3.96,12.09,3.91,11.54,4.22,11.3,4.58,11.46,4.58,12.05,4.48,12.6,4.43,12.95,4.27,13.19,4.38,12.44,5.42,11.57,5.52,11.3,5.21,11.06,5.57,11.06,5.42,10.9,5.16,10.31,5.26,11.14,6.04,10.87,5.94,10.89,5.96,10.63,5.83,10.51,5.99,11.73,6.2,11.57,6.41,11.06,6.35,12.68,6.09,13.31,6.04,12.01,6.51,12.09,6.56,12.32,6.72,12.36,6.77,13.78,6.82,14.13,6.87,14.84,6.98,14.84,7.5,13.07,7.03,13.27,7.19,11.59,7.03,10.9,6.93,10.55,6.82,10.35,6.51,10.47,7.19,10.34,7.34,12.28,7.29,12.05,7.45,11.77,7.45,10.75,7.71,11.06,7.9,11.08,7.9,11.06,8.13,10.55,8.23,11.93,8.18,12.44,8.02,12.99,7.92,12.48,8.59,13.9,8.49,14.49,8.44,14.49,8.07,11.1,8.65,10.63,8.8,10.35,8.96,11.06,9.37,11.46,9.22,11.61,9.11,11.5,9.53,11.73,9.64,15.71,9.27,15.75,8.96,16.26,9.48,
2.17,-8.07,.94,-5.05,.96,-5.05,2.32,-3.33,3.31,-1.98,.59,-1.25,1.65,-1.25,2.48,-.47,1.73,-.42,1.77,.05,2.05,.2,2.05,.47,1.81,.68,2.09,.94,.94,.52,.96,.52,1.1,.68,1.26,.52,1.38,.68,1.46,.63,.43,.68,.39,1.41,.39,1.15,.47,1.09,1.06,1.09,.08,1.82,1.73,1.15,1.81,1.35,2.17,1.35,2.56,1.04,2.76,1.3,3.07,1.56,3.19,1.41,3.66,1.25,5.08,1.35,5.39,1.61,5.41,1.61,4.25,1.88,4.13,2.03,4.96,1.98,6.06,2.08,8.43,2.14,8.98,2.81,9.06,3.23,7.24,2.81,9.96,3.39,10.43,3.59,10.75,3.18,10.83,3.54,6.18,2.55,6.14,3.18,5.31,2.45,4.88,2.34,4.57,2.71,5.71,3.28,5.87,3.33,5.94,3.02,5.43,2.97,5.16,2.66,4.88,2.66,7.2,3.44,7.32,3.39,7.56,3.44,7.83,3.44,7.95,3.59,8.03,3.8,7.44,3.8,6.69,3.59,6.44,3.65,6.89,4.01,6.85,4.17,7.17,4.11,7.28,4.32,7.56,4.48,8.39,4.38,8.74,4.43,8.94,4.22,9.02,4.17,9.49,4.32,9.57,4.43,9.88,4.74,9.88,4.53,9.88,4.32,9.84,4.17,10.08,3.96,10.24,3.91,10.87,5.16,11.02,5.47,10.04,5.05,10.28,5.26,10.12,5.68,10.47,5.99,10.83,5.99,11.1,6.04,11.02,6.35,11.55,6.41,10.32,6.51,9.65,6.35,9.37,6.51,9.41,5.73,9.13,5.73,8.9,5.21,8.66,5,8.35,4.95,8.19,4.84,8.39,4.69,8.19,5.47,8.43,5.68,8.47,6.04,8.62,6.41,8.9,6.56,8.35,6.82,8.62,6.82,9.09,6.77,9.33,6.93,9.57,7.03,10.12,6.93,10.51,6.82,10.87,6.93,7.95,6.41,7.87,6.09,7.72,6.6,7.64,7.08,7.17,5.68,7.2,6.51,7.36,6.25,7.4,5.94,7.56,5.47,7.6,5.21,7.72,5,7.2,4.79,7.48,4.74,6.73,5.52,6.65,5.21,6.38,4.53,.08,5.16,.08,4.22,.08,3.9,.47,5.83,.08,2.55,.67,4.95];
const xTicksLeft=[0,5,10,15,20,25,30,35];
const yTicksLeft=[-5,0,5,10,15,20,25,30];
const xTicksRight=[0,5,10,15,20,25];
const yTicksRight=[-10,-5,0,5,10,15,20,25];
const notesLeft=['r = 0.834','rmse = 3.088','mean error = 1.48','median error = 1.259'];
const notesRight=['r = 0.643','rmse = 3.438','mean error = 1.628','median error = 1.476'];

// ---------- helpers ----------
const BLUE='#4c72b0', BG='#eaeaf2', INK='#262626', FONT='"DejaVu Sans"';
const rowsToPts=rows=>rows.flatMap(r=>r.slice(1).map(x=>[x,r[0]]));
const pairsToPts=a=>{const o=[];for(let i=0;i<a.length;i+=2)o.push([a[i],a[i+1]]);return o;};
const zip=(a,b)=>a.map((v,i)=>[v,b[i]]);
const bins=(start,w,c)=>c.map((v,i)=>[start+i*w,start+(i+1)*w,v]);
const barStyle={fill:'rgba(76,114,176,0.4)',stroke:'rgba(255,255,255,0.45)',lineWidth:0.8};
const hBars=(g,start,w,c)=>({type:'custom',xAxisIndex:g,yAxisIndex:g,coordinateSystem:'cartesian2d',silent:true,data:bins(start,w,c),encode:{x:[0,1],y:2},clip:true,z:2,
  renderItem:(p,api)=>{const a=api.coord([api.value(0),0]),b=api.coord([api.value(1),api.value(2)]);
    return {type:'rect',shape:{x:a[0],y:b[1],width:b[0]-a[0],height:a[1]-b[1]},style:barStyle};}});
const vBars=(g,start,w,c)=>({type:'custom',xAxisIndex:g,yAxisIndex:g,coordinateSystem:'cartesian2d',silent:true,data:bins(start,w,c),encode:{y:[0,1],x:2},clip:true,z:2,
  renderItem:(p,api)=>{const a=api.coord([0,api.value(0)]),b=api.coord([api.value(2),api.value(1)]);
    return {type:'rect',shape:{x:a[0],y:b[1],width:b[0]-a[0],height:a[1]-b[1]},style:barStyle};}});
const kde=(g,data)=>({type:'line',xAxisIndex:g,yAxisIndex:g,data,smooth:0.25,showSymbol:false,symbol:'none',silent:true,z:3,lineStyle:{color:BLUE,width:1.5}});
const scatter=(g,data,size,op)=>({type:'scatter',xAxisIndex:g,yAxisIndex:g,data,symbolSize:size,silent:true,progressive:0,z:2,itemStyle:{color:BLUE,opacity:op,borderWidth:0}});
const fit=(g,xs,ys)=>({type:'line',xAxisIndex:g,yAxisIndex:g,data:zip(xs,ys),showSymbol:false,symbol:'none',silent:true,z:6,clip:true,lineStyle:{color:BLUE,width:2.6}});
const band=(g,xs,ys,ci)=>({type:'custom',xAxisIndex:g,yAxisIndex:g,coordinateSystem:'cartesian2d',silent:true,z:5,clip:true,
  data:xs.slice(0,-1).map((x,i)=>[x,ys[i]-ci[i],ys[i]+ci[i],xs[i+1],ys[i+1]-ci[i+1],ys[i+1]+ci[i+1]]),encode:{x:[0,3],y:[1,2]},
  renderItem:(p,api)=>({type:'polygon',shape:{points:[api.coord([api.value(0),api.value(1)]),api.coord([api.value(3),api.value(4)]),api.coord([api.value(3),api.value(5)]),api.coord([api.value(0),api.value(2)])]},style:{fill:'rgba(76,114,176,0.16)'}})});
const fmt=v=>String(v).replace('-','\u2212');
const gridAxis=(type,min,max,ticks,labels,name,gap,extra)=>Object.assign({type:'value',min,max,
  axisLine:{show:false},
  axisTick:{show:false,customValues:ticks},
  axisLabel:{show:labels,customValues:ticks,color:INK,fontFamily:FONT,fontSize:13,margin:9,formatter:fmt,hideOverlap:false,showMinLabel:true,showMaxLabel:true},
  splitLine:{show:true,lineStyle:{color:'#fff',width:1.4}},
  name:name||'',nameLocation:'middle',nameGap:gap||0,nameTextStyle:{color:INK,fontFamily:FONT,fontSize:24,padding:type==='y'?[0,8,0,0]:0}},extra||{});
const hiddenAxis=(min,max)=>({type:'value',min,max,show:false,splitLine:{show:false}});
const grid=(left,top,width,height)=>({left,top,width,height,show:true,backgroundColor:BG,borderWidth:0,containLabel:false});
const notes=(x,ys,lines)=>lines.map((t,i)=>({type:'text',left:x,top:ys[i]-8,z:20,style:{text:t,fill:INK,font:'20px "DejaVu Sans"',textVerticalAlign:'top'}}));

const L={xMin:-4.57,xMax:37.83,yMin:-9.15,yMax:30.64}, R={xMin:-3.92,xMax:25.93,yMin:-12.31,yMax:27.67};
const option={animation:false,backgroundColor:'#fff',
 grid:[grid(78,176,762,767),grid(78,18,762,133),grid(866,176,132,767),grid(1083,177,756,768),grid(1083,19,756,133),grid(1865,177,130,768)],
 xAxis:[
  gridAxis('x',L.xMin,L.xMax,xTicksLeft,true,'Observed',29,{gridIndex:0}),
  gridAxis('x',L.xMin,L.xMax,xTicksLeft,false,'',0,{gridIndex:1}),
  Object.assign(hiddenAxis(0,396),{gridIndex:2}),
  gridAxis('x',R.xMin,R.xMax,xTicksRight,true,'Observed',29,{gridIndex:3}),
  gridAxis('x',R.xMin,R.xMax,xTicksRight,false,'',0,{gridIndex:4}),
  Object.assign(hiddenAxis(0,390),{gridIndex:5})],
 yAxis:[
  gridAxis('y',L.yMin,L.yMax,yTicksLeft,true,'Predicted',30,{gridIndex:0}),
  Object.assign(hiddenAxis(0,398),{gridIndex:1}),
  gridAxis('y',L.yMin,L.yMax,yTicksLeft,false,'',0,{gridIndex:2}),
  gridAxis('y',R.yMin,R.yMax,yTicksRight,true,'Predicted',30,{gridIndex:3}),
  Object.assign(hiddenAxis(0,398),{gridIndex:4}),
  gridAxis('y',R.yMin,R.yMax,yTicksRight,false,'',0,{gridIndex:5})],
 series:[
  scatter(0,rowsToPts(leftCoreRows),8,1),
  scatter(0,rowsToPts(leftMidRows),8,0.8),
  scatter(0,rowsToPts(leftFillRows),8,0.8),
  scatter(0,pairsToPts(leftPairs),8,0.8),
  band(0,leftFitX,leftFitY,leftFitCi),fit(0,leftFitX,leftFitY),
  hBars(1,leftTopStart,leftTopWidth,leftTopCounts),kde(1,zip(leftTopKdeX,leftTopKdeY)),
  vBars(2,leftSideStart,leftSideWidth,leftSideCounts),kde(2,zip(leftSideKdeX,leftSideKdeY)),
  scatter(3,rowsToPts(rightRows),8,0.8),
  scatter(3,rowsToPts(rightFillRows),8,0.8),
  scatter(3,pairsToPts(rightPairs),8,0.8),
  band(3,rightFitX,rightFitY,rightFitCi),fit(3,rightFitX,rightFitY),
  hBars(4,rightTopStart,rightTopWidth,rightTopCounts),kde(4,zip(rightTopKdeX,rightTopKdeY)),
  vBars(5,rightSideStart,rightSideWidth,rightSideCounts),kde(5,zip(rightSideKdeX,rightSideKdeY))
 ],
 graphic:{elements:[...notes(153,[247,285,323,362],notesLeft),...notes(1157,[248,286,324,363],notesRight)]}
};
echarts.init(document.getElementById('c'),null,{renderer:'canvas'}).setOption(option);
</script></body></html>
